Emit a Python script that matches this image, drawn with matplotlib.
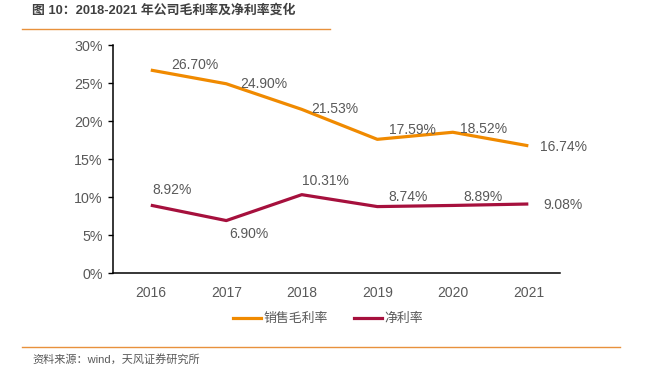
import matplotlib.pyplot as plt
from matplotlib.lines import Line2D

plt.rcParams['font.family'] = ['Liberation Sans', 'Noto Sans CJK SC', 'DejaVu Sans']

years = ['2016', '2017', '2018', '2019', '2020', '2021']
gross_margin = [26.70, 24.90, 21.53, 17.59, 18.52, 16.74]
net_margin = [8.92, 6.90, 10.31, 8.74, 8.89, 9.08]
yticks = [0, 5, 10, 15, 20, 25, 30]

# label offsets in points
gross_off = [(32, 4), (27, 0), (24, 0), (25, 7), (22, 2), (25, -1)]
net_off = [(15, 11), (16, -10), (17, 10), (22, 7), (22, 6), (25, -1)]

ORANGE = '#F08A00'
MAROON = '#A6103D'
GREY = '#595959'

fig = plt.figure(figsize=(6.47, 3.72), dpi=100)
ax = fig.add_axes([0.1747, 0.2661, 0.6909, 0.6129])

x = list(range(len(years)))
ax.plot(x, gross_margin, color=ORANGE, lw=2.3, solid_capstyle='butt')
ax.plot(x, net_margin, color=MAROON, lw=2.3, solid_capstyle='butt')

for i, v in enumerate(gross_margin):
    ax.annotate(f'{v:.2f}%', (i, v), xytext=gross_off[i], textcoords='offset points',
                ha='center', va='center', fontsize=10, color=GREY)
for i, v in enumerate(net_margin):
    ax.annotate(f'{v:.2f}%', (i, v), xytext=net_off[i], textcoords='offset points',
                ha='center', va='center', fontsize=10, color=GREY)

ax.set_xlim(-0.5, 5.42)
ax.set_ylim(0, 30)
ax.set_xticks(x)
ax.set_xticklabels(years)
ax.set_yticks(yticks)
ax.set_yticklabels([f'{t}%' for t in yticks])
ax.tick_params(axis='x', length=0, pad=9, labelsize=10, labelcolor=GREY)
ax.tick_params(axis='y', length=3.5, width=1, pad=4, labelsize=10.3, labelcolor=GREY)
for s in ['top', 'right']:
    ax.spines[s].set_visible(False)
for s in ['left', 'bottom']:
    ax.spines[s].set_linewidth(1.1)
    ax.spines[s].set_color('black')

handles = [Line2D([], [], color=ORANGE, lw=2.3), Line2D([], [], color=MAROON, lw=2.3)]
fig.legend(handles, ['销售毛利率', '净利率'], loc='center', bbox_to_anchor=(0.507, 0.142),
           ncol=2, frameon=False, fontsize=9.3, handlelength=2.2, handletextpad=0.2,
           columnspacing=2.0, labelcolor=GREY)

fig.text(32 / 647, 1 - 10 / 372, '图 10：2018-2021 年公司毛利率及净利率变化', fontsize=9.3,
         fontweight='bold', color='#404040', va='center', ha='left')
fig.add_artist(Line2D([22 / 647, 330 / 647], [1 - 29 / 372] * 2, color='#E8913C', lw=1))
fig.add_artist(Line2D([22 / 647, 620 / 647], [1 - 347 / 372] * 2, color='#E8913C', lw=1))
fig.text(32 / 647, 1 - 359 / 372, '资料来源：wind，天风证券研究所', fontsize=8,
         color=GREY, va='center', ha='left')

fig.savefig('out.png', dpi=100)
